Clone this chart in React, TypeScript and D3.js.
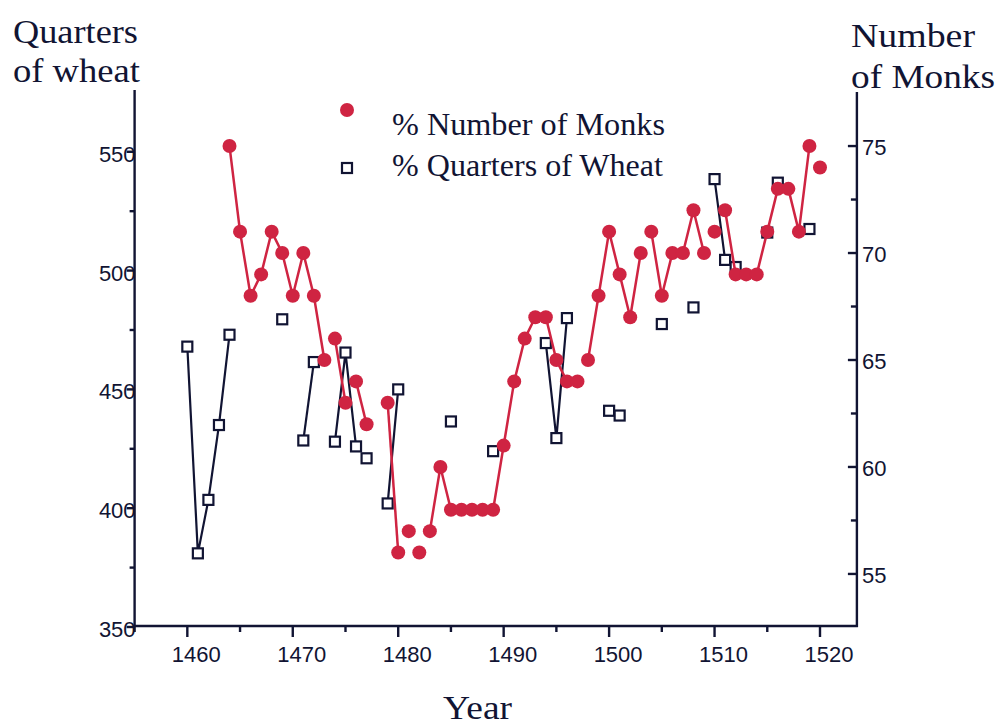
import React from "react";
import * as d3 from "d3";

// ---- data ----
const monkYears = [
  1464, 1465, 1466, 1467, 1468, 1469, 1470, 1471, 1472, 1473, 1474, 1475, 1476, 1477,
  1479, 1480, 1481, 1482, 1483, 1484, 1485, 1486, 1487, 1488, 1489, 1490, 1491, 1492,
  1493, 1494, 1495, 1496, 1497, 1498, 1499, 1500, 1501, 1502, 1503, 1504, 1505, 1506,
  1507, 1508, 1509, 1510, 1511, 1512, 1513, 1514, 1515, 1516, 1517, 1518, 1519, 1520,
];
const monkCounts = [
  75, 71, 68, 69, 71, 70, 68, 70, 68, 65, 66, 63, 64, 62,
  63, 56, 57, 56, 57, 60, 58, 58, 58, 58, 58, 61, 64, 66,
  67, 67, 65, 64, 64, 65, 68, 71, 69, 67, 70, 71, 68, 70,
  70, 72, 70, 71, 72, 69, 69, 69, 71, 73, 73, 71, 75, 74,
];
// years where the monks line is not joined to the previous point
const monkBreaks = [1474, 1476, 1479, 1481, 1482, 1483, 1498, 1504, 1510, 1511, 1520];

const wheatYears = [
  1460, 1461, 1462, 1463, 1464, 1469, 1471, 1472, 1474, 1475, 1476, 1477, 1479, 1480,
  1485, 1489, 1494, 1495, 1496, 1500, 1501, 1505, 1508, 1510, 1511, 1512, 1515, 1516, 1519,
];
const wheatQuarters = [
  468, 381, 403.5, 435, 473, 479.5, 428.5, 461.5, 428, 465.5, 426, 421, 402, 450,
  436.5, 424, 469.5, 429.5, 480, 441, 439, 477.5, 484.5, 538.5, 504.5, 501.5, 516, 537, 517.5,
];
// years where the wheat line is not joined to the previous point
const wheatBreaks = [1469, 1471, 1474, 1477, 1479, 1485, 1489, 1494, 1500, 1501, 1505, 1508, 1510, 1515, 1516, 1519];

const xMajorTicks = [1460, 1470, 1480, 1490, 1500, 1510, 1520];
const xMinorTicks = [1455, 1465, 1475, 1485, 1495, 1505, 1515];
const leftMajorTicks = [350, 400, 450, 500, 550];
const leftMinorTicks = [375, 425, 475, 525];
const rightMajorTicks = [55, 60, 65, 70, 75];
const rightMinorTicks = [57.5, 62.5, 67.5, 72.5];

const legendLabels = ["% Number of Monks", "% Quarters of Wheat"];

// ---- layout ----
const RED = "#cf2442";
const NAVY = "#111433";
const W = 1000;
const H = 727;
const X0 = 134.6;
const X1 = 856.9;
const YT = 90;
const YB = 627;

const x = d3.scaleLinear().domain([1455, 1523.5]).range([X0, X1]);
const yL = d3.scaleLinear().domain([350, 576]).range([YB, YT]);
const yR = d3.scaleLinear().domain([52.52, 77.62]).range([YB, YT]);

type P = { year: number; v: number };

function segments(years: number[], vals: number[], breaks: number[]): P[][] {
  const segs: P[][] = [];
  let cur: P[] = [];
  years.forEach((yr, i) => {
    if (cur.length && breaks.includes(yr)) {
      segs.push(cur);
      cur = [];
    }
    cur.push({ year: yr, v: vals[i] });
  });
  if (cur.length) segs.push(cur);
  return segs;
}

export default function App() {
  const monkSegs = segments(monkYears, monkCounts, monkBreaks);
  const wheatSegs = segments(wheatYears, wheatQuarters, wheatBreaks);
  const monkLine = d3
    .line<P>()
    .x((d) => x(d.year))
    .y((d) => yR(d.v));
  const wheatLine = d3
    .line<P>()
    .x((d) => x(d.year))
    .y((d) => yL(d.v));
  const sq = 10;
  const sans = "'Liberation Sans', Arial, Helvetica, sans-serif";
  const serif = "'Liberation Serif', 'Times New Roman', Times, serif";

  return (
    <svg
      width={W}
      height={H}
      viewBox={`0 0 ${W} ${H}`}
      style={{ position: "absolute", left: 0, top: 0, display: "block", background: "#fff" }}
    >
      <rect x={0} y={0} width={W} height={H} fill="#fff" />

      {/* axis titles */}
      <g fill={NAVY} fontFamily={serif} fontSize={33}>
        <text x={13} y={43} textLength={125} lengthAdjust="spacingAndGlyphs">Quarters</text>
        <text x={13} y={82} textLength={127} lengthAdjust="spacingAndGlyphs">of wheat</text>
        <text x={851} y={47} textLength={124} lengthAdjust="spacingAndGlyphs">Number</text>
        <text x={851} y={88} textLength={144} lengthAdjust="spacingAndGlyphs">of Monks</text>
        <text x={443} y={719} fontSize={34} textLength={69} lengthAdjust="spacingAndGlyphs">Year</text>
      </g>

      {/* axes */}
      <g stroke={NAVY} strokeWidth={2.4} fill="none">
        <line x1={X0} y1={YT} x2={X0} y2={YB} />
        <line x1={X1} y1={YT + 2} x2={X1} y2={YB} />
        <line x1={X0 - 1} y1={YB - 1} x2={X1 + 1} y2={YB - 1} />
        {xMajorTicks.map((t) => (
          <line key={"xM" + t} x1={x(t)} x2={x(t)} y1={YB - 1} y2={YB + 10} />
        ))}
        {xMinorTicks.map((t) => (
          <line key={"xm" + t} x1={x(t)} x2={x(t)} y1={YB - 1} y2={YB + 5} />
        ))}
        {leftMajorTicks.map((t) => (
          <line key={"lM" + t} x1={X0 - 8} x2={X0} y1={yL(t)} y2={yL(t)} />
        ))}
        {leftMinorTicks.map((t) => (
          <line key={"lm" + t} x1={X0 - 5} x2={X0} y1={yL(t)} y2={yL(t)} />
        ))}
        {rightMajorTicks.map((t) => (
          <line key={"rM" + t} x1={X1 - 9} x2={X1} y1={yR(t)} y2={yR(t)} />
        ))}
        {rightMinorTicks.map((t) => (
          <line key={"rm" + t} x1={X1 - 6} x2={X1} y1={yR(t)} y2={yR(t)} />
        ))}
      </g>

      {/* tick labels */}
      <g fill={NAVY} fontFamily={sans} fontSize={22}>
        {xMajorTicks.map((t) => (
          <text key={"xl" + t} x={x(t) + 9} y={662} textAnchor="middle">{t}</text>
        ))}
        {leftMajorTicks.map((t) => (
          <text key={"ll" + t} x={X0 + 1} y={yL(t) + 10} textAnchor="end">{t}</text>
        ))}
        {rightMajorTicks.map((t) => (
          <text key={"rl" + t} x={862} y={yR(t) + 9} textAnchor="start">{t}</text>
        ))}
      </g>

      {/* wheat series */}
      <g>
        {wheatSegs.map((s, i) =>
          s.length > 1 ? (
            <path key={"wl" + i} d={wheatLine(s) || ""} fill="none" stroke={NAVY} strokeWidth={2.2} />
          ) : null
        )}
        {wheatYears.map((yr, i) => (
          <rect
            key={"ws" + yr}
            x={x(yr) - sq / 2}
            y={yL(wheatQuarters[i]) - sq / 2}
            width={sq}
            height={sq}
            fill="#fff"
            stroke={NAVY}
            strokeWidth={2.2}
          />
        ))}
      </g>

      {/* monks series */}
      <g>
        {monkSegs.map((s, i) =>
          s.length > 1 ? (
            <path key={"ml" + i} d={monkLine(s) || ""} fill="none" stroke={RED} strokeWidth={2.5} />
          ) : null
        )}
        {monkYears.map((yr, i) => (
          <circle key={"mc" + yr} cx={x(yr)} cy={yR(monkCounts[i])} r={7} fill={RED} />
        ))}
      </g>

      {/* legend */}
      <g>
        <circle cx={347} cy={110} r={7} fill={RED} />
        <rect x={347 - 5} y={168 - 5} width={10} height={10} fill="#fff" stroke={NAVY} strokeWidth={2.2} />
        <g fill={NAVY} fontFamily={serif} fontSize={31}>
          <text x={392} y={135} textLength={273} lengthAdjust="spacingAndGlyphs">{legendLabels[0]}</text>
          <text x={392} y={176} textLength={271} lengthAdjust="spacingAndGlyphs">{legendLabels[1]}</text>
        </g>
      </g>
    </svg>
  );
}
